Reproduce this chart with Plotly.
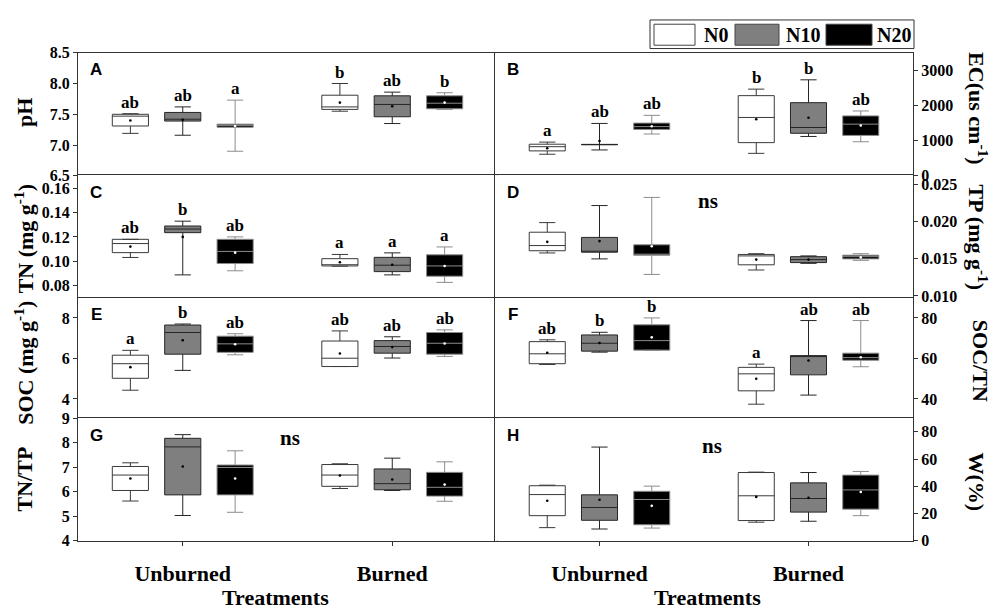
import plotly.graph_objects as go

W_PX, H_PX = 993, 609

groups = ["Unburned", "Burned"]
treatments = ["N0", "N10", "N20"]

# Box statistics: rows = N0, N10, N20; columns = Unburned, Burned
pH_low = [[7.19, 7.55], [7.16, 7.35], [6.90, 7.58]]
pH_q1 = [[7.31, 7.58], [7.39, 7.46], [7.29, 7.59]]
pH_med = [[7.47, 7.62], [7.42, 7.66], [7.32, 7.68]]
pH_q3 = [[7.50, 7.81], [7.53, 7.80], [7.34, 7.80]]
pH_high = [[7.51, 8.00], [7.62, 7.86], [7.73, 7.85]]
pH_mean = [[7.40, 7.69], [7.41, 7.63], [7.31, 7.69]]
pH_sig = [["ab", "b"], ["ab", "ab"], ["a", "b"]]

EC_low = [[615, 640], [737, 1120], [1190, 970]]
EC_q1 = [[710, 945], [885, 1210], [1320, 1150]]
EC_med = [[830, 1660], [890, 1375], [1400, 1470]]
EC_q3 = [[900, 2280], [895, 2080], [1500, 1705]]
EC_high = [[960, 2465], [1490, 2730], [1720, 1845]]
EC_mean = [[785, 1610], [990, 1650], [1410, 1430]]
EC_sig = [["a", "b"], ["ab", "b"], ["ab", "ab"]]

TN_low = [[0.103, 0.0958], [0.0886, 0.0886], [0.092, 0.0824]]
TN_q1 = [[0.107, 0.0960], [0.1235, 0.0913], [0.098, 0.0875]]
TN_med = [[0.1145, 0.0970], [0.1265, 0.0966], [0.108, 0.0960]]
TN_q3 = [[0.118, 0.1020], [0.129, 0.1031], [0.118, 0.1052]]
TN_high = [[0.118, 0.1055], [0.133, 0.1068], [0.120, 0.1117]]
TN_mean = [[0.112, 0.099], [0.120, 0.097], [0.107, 0.096]]
TN_sig = [["ab", "a"], ["b", "a"], ["ab", "a"]]

TP_low = [[0.0158, 0.0135], [0.0150, 0.0144], [0.0129, 0.0148]]
TP_q1 = [[0.0161, 0.0142], [0.0159, 0.0145], [0.0155, 0.0150]]
TP_med = [[0.0168, 0.0154], [0.0160, 0.0149], [0.0156, 0.0153]]
TP_q3 = [[0.0186, 0.0156], [0.0179, 0.0153], [0.0169, 0.0155]]
TP_high = [[0.0199, 0.0157], [0.0222, 0.0154], [0.0233, 0.0157]]
TP_mean = [[0.0173, 0.0149], [0.0174, 0.0149], [0.0167, 0.0152]]

SOC_low = [[4.43, 5.60], [5.41, 6.02], [6.18, 6.10]]
SOC_q1 = [[5.02, 5.60], [6.21, 6.26], [6.30, 6.21]]
SOC_med = [[5.74, 6.01], [7.28, 6.59], [6.72, 6.75]]
SOC_q3 = [[6.16, 6.86], [7.65, 6.88], [7.10, 7.28]]
SOC_high = [[6.40, 7.36], [7.70, 7.07], [7.22, 7.41]]
SOC_mean = [[5.57, 6.24], [6.90, 6.56], [6.70, 6.74]]
SOC_sig = [["a", "ab"], ["b", "ab"], ["ab", "ab"]]

CN_low = [[57.0, 37.4], [63.1, 41.9], [64.0, 55.9]]
CN_q1 = [[57.4, 44.0], [63.6, 51.9], [64.1, 59.1]]
CN_med = [[62.3, 52.4], [67.5, 61.2], [68.8, 60.4]]
CN_q3 = [[68.3, 55.6], [71.6, 61.4], [76.6, 62.6]]
CN_high = [[69.2, 57.2], [72.9, 78.7], [80.0, 78.7]]
CN_mean = [[62.8, 50.0], [67.6, 59.0], [70.4, 60.6]]
CN_sig = [["ab", "a"], ["b", "ab"], ["b", "ab"]]

NP_low = [[5.62, 6.13], [5.03, 6.05], [5.16, 5.61]]
NP_q1 = [[6.05, 6.22], [5.87, 6.08], [5.87, 5.82]]
NP_med = [[6.68, 6.68], [7.83, 6.33], [6.99, 6.18]]
NP_q3 = [[7.03, 7.11], [8.18, 6.93], [7.09, 6.79]]
NP_high = [[7.18, 7.14], [8.33, 7.37], [7.67, 7.22]]
NP_mean = [[6.54, 6.66], [7.03, 6.50], [6.54, 6.29]]

W_low = [[9.6, 13.6], [8.6, 14.3], [9.3, 18.4]]
W_q1 = [[18.4, 14.8], [15.0, 21.0], [11.7, 23.2]]
W_med = [[33.9, 33.0], [24.4, 31.0], [30.3, 37.3]]
W_q3 = [[40.4, 50.1], [33.7, 42.5], [36.3, 48.2]]
W_high = [[40.8, 50.4], [68.8, 50.1], [40.1, 50.9]]
W_mean = [[29.4, 32.2], [30.1, 31.5], [25.6, 35.8]]

panels = [
    dict(tag="A", stats=(pH_low, pH_q1, pH_med, pH_q3, pH_high, pH_mean), sig=pH_sig,
         yrange=[6.5, 8.5], ticks=[6.5, 7.0, 7.5, 8.0, 8.5], fmt=".1f"),
    dict(tag="B", stats=(EC_low, EC_q1, EC_med, EC_q3, EC_high, EC_mean), sig=EC_sig,
         yrange=[0, 3500], ticks=[0, 1000, 2000, 3000], fmt="d"),
    dict(tag="C", stats=(TN_low, TN_q1, TN_med, TN_q3, TN_high, TN_mean), sig=TN_sig,
         yrange=[0.07, 0.171], ticks=[0.08, 0.10, 0.12, 0.14, 0.16], fmt=".2f"),
    dict(tag="D", stats=(TP_low, TP_q1, TP_med, TP_q3, TP_high, TP_mean), sig=None,
         yrange=[0.0098, 0.0263], ticks=[0.010, 0.015, 0.020, 0.025], fmt=".3f"),
    dict(tag="E", stats=(SOC_low, SOC_q1, SOC_med, SOC_q3, SOC_high, SOC_mean), sig=SOC_sig,
         yrange=[3, 9], ticks=[4, 6, 8], fmt="d"),
    dict(tag="F", stats=(CN_low, CN_q1, CN_med, CN_q3, CN_high, CN_mean), sig=CN_sig,
         yrange=[30, 90], ticks=[40, 60, 80], fmt="d"),
    dict(tag="G", stats=(NP_low, NP_q1, NP_med, NP_q3, NP_high, NP_mean), sig=None,
         yrange=[4, 9], ticks=[4, 5, 6, 7, 8, 9], fmt="d"),
    dict(tag="H", stats=(W_low, W_q1, W_med, W_q3, W_high, W_mean), sig=None,
         yrange=[0, 90], ticks=[0, 20, 40, 60, 80], fmt="d"),
]

# "ns" marker position inside the non-significant panels (axis-domain fractions)
ns_pos = {"D": (0.51, 0.79), "G": (0.506, 0.84), "H": (0.52, 0.77)}

# axis titles: (text, x px, y px, angle)
axis_titles = [
    ("pH", 25, 108, -90),
    ("EC(us cm<sup>-1</sup>)", 978, 103, 90),
    ("TN (mg g<sup>-1</sup>)", 24, 238, -90),
    ("TP (mg g<sup>-1</sup>)", 978, 236, 90),
    ("SOC (mg g<sup>-1</sup>)", 24, 365, -90),
    ("SOC/TN", 980, 363, 90),
    ("TN/TP", 24, 485, -90),
    ("W(%)", 977, 487, 90),
]

fills = {"N0": "#ffffff", "N10": "#7f7f7f", "N20": "#000000"}
edges = {"N0": "#3a3a3a", "N10": "#262626", "N20": "#8c8c8c"}
mean_dot = {"N0": "#000000", "N10": "#000000", "N20": "#ffffff"}

BOXGAP, GROUPGAP = 0.25, 0.31
SERIF = "Liberation Serif"
SANS = "Liberation Sans"
AXIS_COLOR = "#333333"

col_px = [(78, 497), (495, 913)]
row_px = [(46, 172.7), (172, 297.7), (298, 423), (422, 548)]


def px_x(v):
    return v / W_PX


def px_y(v):
    return 1 - v / H_PX


def group_offset(k, n=3):
    return (1 - BOXGAP) * ((k + 0.5) / n - 0.5)


fig = go.Figure()
layout = dict(
    width=W_PX, height=H_PX,
    margin=dict(l=0, r=0, t=0, b=0),
    paper_bgcolor="white", plot_bgcolor="white",
    boxmode="group", boxgap=BOXGAP, boxgroupgap=GROUPGAP,
    showlegend=False,
    font=dict(family=SERIF, color="black"),
)
annotations = []
shapes = []
positions = list(range(len(groups)))

for i, p in enumerate(panels):
    n = i + 1
    col, row = i % 2, i // 2
    suffix = "" if n == 1 else str(n)
    xa, ya = "x" + suffix, "y" + suffix
    low, q1, med, q3, high, mean = p["stats"]

    for k, t in enumerate(treatments):
        fig.add_trace(go.Box(
            x=positions, q1=q1[k], median=med[k], q3=q3[k],
            lowerfence=low[k], upperfence=high[k],
            name=t, offsetgroup=t,
            fillcolor=fills[t], line=dict(color=edges[t], width=1),
            whiskerwidth=0.45, boxpoints=False,
            xaxis=xa, yaxis=ya, showlegend=False, hoverinfo="skip",
        ))
        off = group_offset(k)
        fig.add_trace(go.Scatter(
            x=[pos + off for pos in positions], y=mean[k], mode="markers",
            marker=dict(size=2.6, color=mean_dot[t], line=dict(width=0)),
            xaxis=xa, yaxis=ya, showlegend=False, hoverinfo="skip",
        ))
        if p["sig"] is not None:
            for j, pos in enumerate(positions):
                annotations.append(dict(
                    x=pos + off, y=high[k][j], xref=xa, yref=ya,
                    text=p["sig"][k][j], showarrow=False,
                    xanchor="center", yanchor="bottom", yshift=0,
                    font=dict(family=SERIF, size=17, color="black", weight="bold"),
                ))

    x0, x1 = col_px[col]
    y0, y1 = row_px[row]
    bottom_row = row == 3
    layout["xaxis" + suffix] = dict(
        domain=[px_x(x0), px_x(x1)], anchor=ya,
        range=[-0.5, 1.5], tickvals=positions, ticktext=groups,
        showticklabels=bottom_row, ticks="outside" if bottom_row else "",
        ticklen=4, tickcolor=AXIS_COLOR, ticklabelstandoff=9,
        tickfont=dict(family=SERIF, size=22, color="black", weight="bold"),
        showline=True, linecolor=AXIS_COLOR, linewidth=1, mirror=True,
        showgrid=False, zeroline=False, fixedrange=True,
    )
    layout["yaxis" + suffix] = dict(
        domain=[px_y(y1), px_y(y0)], anchor=xa,
        side="left" if col == 0 else "right",
        range=p["yrange"], tickvals=p["ticks"], tickformat=p["fmt"],
        ticks="outside", ticklen=4, tickcolor=AXIS_COLOR,
        tickfont=dict(family=SERIF, size=16, color="black", weight="bold"),
        showline=True, linecolor=AXIS_COLOR, linewidth=1, mirror=True,
        showgrid=False, zeroline=False, fixedrange=True,
    )

    annotations.append(dict(
        x=0.043, y=0.86, xref=xa + " domain", yref=ya + " domain",
        text=p["tag"], showarrow=False, xanchor="center", yanchor="middle",
        font=dict(family=SANS, size=17, color="black", weight="bold"),
    ))
    if p["tag"] in ns_pos:
        nx, ny = ns_pos[p["tag"]]
        annotations.append(dict(
            x=nx, y=ny, xref=xa + " domain", yref=ya + " domain",
            text="ns", showarrow=False, xanchor="center", yanchor="middle",
            font=dict(family=SERIF, size=21, color="black", weight="bold"),
        ))

# axis titles
for text, tx, ty, ang in axis_titles:
    annotations.append(dict(
        x=px_x(tx), y=px_y(ty), xref="paper", yref="paper",
        text=text, showarrow=False, textangle=ang,
        xanchor="center", yanchor="middle",
        font=dict(family=SERIF, size=22, color="black", weight="bold"),
    ))

for cx in (275, 707):
    annotations.append(dict(
        x=px_x(cx), y=px_y(600), xref="paper", yref="paper",
        text="Treatments", showarrow=False, xanchor="center", yanchor="middle",
        yshift=-6,
        font=dict(family=SERIF, size=22, color="black", weight="bold"),
    ))

# legend frame, swatches and labels
shapes.append(dict(type="rect", xref="paper", yref="paper",
                   x0=px_x(650), x1=px_x(914), y0=px_y(41.7), y1=px_y(12.3),
                   line=dict(color="#333333", width=1), fillcolor="white"))
legend_swatch = [(654, 695), (735, 779), (826, 872)]
legend_label_x = [716, 802.5, 894]
for t, (sx0, sx1), lx in zip(treatments, legend_swatch, legend_label_x):
    shapes.append(dict(type="rect", xref="paper", yref="paper",
                       x0=px_x(sx0), x1=px_x(sx1), y0=px_y(38.3), y1=px_y(16.7),
                       line=dict(color="#444444", width=1), fillcolor=fills[t]))
    annotations.append(dict(
        x=px_x(lx), y=px_y(27.5), xref="paper", yref="paper",
        text=t, showarrow=False, xanchor="center", yanchor="middle",
        font=dict(family=SERIF, size=20, color="black", weight="bold"),
    ))

layout["annotations"] = annotations
layout["shapes"] = shapes
fig.update_layout(**layout)

fig.write_html("out.html")
